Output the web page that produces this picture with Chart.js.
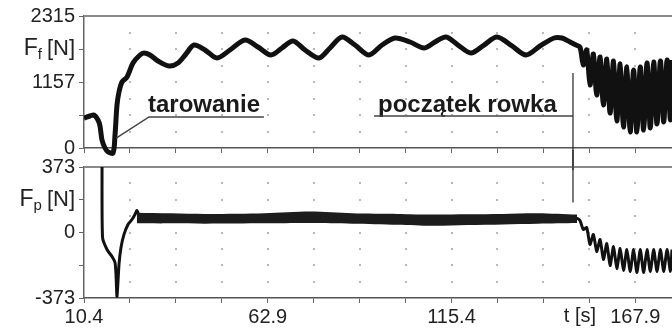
<!DOCTYPE html>
<html><head><meta charset="utf-8">
<script src="https://cdn.jsdelivr.net/npm/chart.js@4.4.0/dist/chart.umd.min.js"></script>
<style>
html,body{margin:0;padding:0;background:#fff;}
#wrap{position:relative;width:672px;height:331px;overflow:hidden;background:#fff;}
#c1{position:absolute;left:0;top:0;}
#c2{position:absolute;left:0;top:150px;}
</style></head><body>
<div id="wrap"><canvas id="c1" width="672" height="170"></canvas><canvas id="c2" width="672" height="181"></canvas></div>
<script>
// ---- data ----
const ffTime = [10.4,12.11,13.26,14.4,14.97,15.54,16.4,17.26,18.69,19.26,19.83,20.4,21.26,22.69,24.4,26.4,27.54,29.26,31.54,34.69,37.26,39.54,41.83,44.97,48.4,52.11,56.4,60.11,63.83,66.97,70.11,73.54,77.54,80.69,84.11,87.83,91.83,95.54,99.26,103.54,107.54,110.69,113.83,117.26,120.97,124.69,128.4,132.69,136.69,140.69,144.69,146.97,149.26,150.97,152.11,153.06,154.03,154.97,155.94,156.89,157.86,158.8,159.77,160.71,161.69,162.63,163.6,164.54,165.51,166.46,167.43,168.37,169.34,170.29,171.26,172.2,173.17,174.11,175.09,176.03,177.0,177.94,178.4];
const ffValue = [526,561,579,491,386,140,0,-70,-88,228,754,982,1158,1245,1491,1631,1666,1631,1526,1438,1491,1649,1806,1719,1578,1719,1894,1771,1631,1754,1877,1719,1578,1754,1947,1806,1631,1806,1929,1859,1754,1859,1947,1806,1666,1806,1947,1789,1631,1789,1929,1929,1859,1806,1771,1456,1719,1105,1649,930,1596,754,1561,614,1526,474,1473,368,1421,281,1368,281,1421,316,1491,351,1508,421,1526,456,1543,491,1543];

const fpTime = [15.55,15.7,16.97,18.4,19.26,19.54,19.83,20.4,20.97,21.83,22.97,24.11,24.97,25.54,26.4,27.83,45,62,75,87,100,110,120,130,140,151.26,152.11,153.06,154.03,154.97,155.94,156.89,157.86,158.8,159.77,160.71,161.69,162.63,163.6,164.54,165.51,166.46,167.43,168.37,169.34,170.29,171.26,172.2,173.17,174.11,175.09,176.03,177.0,177.94,178.4];
const fpValue = [400,-28,-97,-137,-171,-239,-364,-182,-85,-11,46,74,103,125,85,80,79,80,84,80,76,72,74,76,79,80,68,17,28,-68,-11,-108,-40,-154,-63,-188,-80,-205,-91,-216,-97,-222,-97,-228,-97,-228,-97,-222,-97,-222,-97,-222,-97,-222,-97];

const fpBandTime  = [25.5,45,62,75,87,100,110,120,130,140,151.3];
const fpBandUpper = [112,106,110,120,110,106,102,104,106,110,102];
const fpBandLower = [52,50,52,54,50,44,38,42,46,50,54];

const xTickValues = [10.4,23.525,36.65,49.775,62.9,76.025,89.15,102.275,115.4,128.525,141.65,154.775,167.9];
const xTickLabels = ['10.4','','','','62.9','','','','115.4','','','','167.9'];
const ffTickValues = [0,578.75,1157.5,1736.25,2315];
const ffTickLabels = ['0','','1157','','2315'];
const fpTickValues = [-373,-186.5,0,186.5,373];
const fpTickLabels = ['-373','','0','','373'];

const X_MIN = 10.4, X_MAX = 178.4;
const FONT = "'Liberation Sans', Arial, sans-serif";

function pts(t, v){ const n=Math.min(t.length,v.length); const a=[]; for(let i=0;i<n;i++) a.push({x:t[i],y:v[i]}); return a; }
function gridLevels(ticks){ const out=[]; for(let i=0;i<ticks.length-1;i++){ out.push(ticks[i]); out.push((ticks[i]+ticks[i+1])/2);} out.push(ticks[ticks.length-1]); return out; }

function dotGrid(chart, levels){
  const {ctx, chartArea:a, scales:{x,y}} = chart;
  ctx.save(); ctx.fillStyle = '#b8b8b8';
  for (const tv of xTickValues.slice(1)){
    const px = Math.round(x.getPixelForValue(tv));
    for (const lv of levels){
      const py = Math.round(y.getPixelForValue(lv));
      if (py <= a.top+1 || py >= a.bottom-1) continue;
      ctx.fillRect(px-1, py-1, 2, 2);
    }
  }
  ctx.restore();
}
function topBorder(chart){
  const {ctx, chartArea:a} = chart;
  ctx.save(); ctx.strokeStyle='#8a8a8a'; ctx.lineWidth=2;
  ctx.beginPath(); ctx.moveTo(a.left, a.top); ctx.lineTo(a.right, a.top); ctx.stroke(); ctx.restore();
}
function yTitle(chart, value, sub){
  const {ctx, scales:{y}} = chart;
  const py = y.getPixelForValue(value);
  ctx.save(); ctx.fillStyle='#222'; ctx.textBaseline='middle'; ctx.textAlign='right';
  ctx.font = '22px ' + FONT;
  const right = 75;
  ctx.fillText('[N]', right, py);
  const wN = ctx.measureText('[N]').width;
  ctx.font = '15px ' + FONT;
  const subX = right - wN - 5;
  ctx.fillText(sub, subX, py + 6);
  const wS = ctx.measureText(sub).width;
  ctx.font = '23px ' + FONT;
  ctx.fillText('F', subX - wS, py);
  ctx.restore();
}

const topPlugin = {
  id: 'topDecor',
  beforeDatasetsDraw(chart){ dotGrid(chart, gridLevels(ffTickValues)); topBorder(chart); },
  afterDraw(chart){
    const {ctx, scales:{x,y}} = chart;
    yTitle(chart, ffTickValues[3], 'f');
    ctx.save();
    ctx.fillStyle='#1a1a1a'; ctx.font='bold 24px ' + FONT; ctx.textBaseline='alphabetic'; ctx.textAlign='left';
    ctx.fillText('tarowanie', x.getPixelForValue(28.69), y.getPixelForValue(631));
    ctx.fillText('początek rowka', x.getPixelForValue(94.4), y.getPixelForValue(631));
    ctx.strokeStyle='#444'; ctx.lineWidth=1.5;
    ctx.beginPath();
    ctx.moveTo(x.getPixelForValue(61.8), y.getPixelForValue(544));
    ctx.lineTo(x.getPixelForValue(28.97), y.getPixelForValue(544));
    ctx.lineTo(x.getPixelForValue(19.6), y.getPixelForValue(175));
    ctx.stroke();
    ctx.beginPath();
    ctx.moveTo(x.getPixelForValue(93.26), y.getPixelForValue(561));
    ctx.lineTo(x.getPixelForValue(150.11), y.getPixelForValue(561));
    ctx.stroke();
    ctx.strokeStyle='#222'; ctx.lineWidth=1.2;
    ctx.beginPath();
    ctx.moveTo(x.getPixelForValue(150.11), y.getPixelForValue(1315));
    ctx.lineTo(x.getPixelForValue(150.11), chart.height);
    ctx.stroke();
    ctx.restore();
  }
};
const botPlugin = {
  id: 'botDecor',
  beforeDatasetsDraw(chart){ dotGrid(chart, gridLevels(fpTickValues)); topBorder(chart); },
  afterDraw(chart){
    const {ctx, scales:{x,y}} = chart;
    yTitle(chart, fpTickValues[3], 'p');
    ctx.save();
    ctx.strokeStyle='#222'; ctx.lineWidth=1.2;
    ctx.beginPath();
    ctx.moveTo(x.getPixelForValue(150.11), 0);
    ctx.lineTo(x.getPixelForValue(150.11), y.getPixelForValue(171));
    ctx.stroke();
    ctx.fillStyle='#222'; ctx.font='20px ' + FONT; ctx.textAlign='center'; ctx.textBaseline='middle';
    ctx.fillText('t [s]', x.getPixelForValue(152.1), chart.chartArea.bottom + 18);
    ctx.restore();
  }
};

function xScale(height, showLabels){
  return {
    type:'linear', min:X_MIN, max:X_MAX,
    afterBuildTicks: s => { s.ticks = xTickValues.map(v => ({value:v})); },
    afterFit: s => { s.height = height; },
    ticks:{ display:showLabels, autoSkip:false, maxRotation:0, minRotation:0, padding:2,
      callback:(v,i)=>xTickLabels[i], color:'#222', font:{family:FONT, size:20} },
    grid:{ drawOnChartArea:false, drawTicks:true, tickLength:5, color:'#666', lineWidth:1 },
    border:{ display:true, color:'#555', width:1.5 }
  };
}
function yScale(vals, labels){
  return {
    type:'linear', min:vals[0], max:vals[vals.length-1],
    afterBuildTicks: s => { s.ticks = vals.map(v => ({value:v})); },
    afterFit: s => { s.width = 84; },
    ticks:{ autoSkip:false, padding:4, callback:(v,i)=>labels[i], color:'#222', font:{family:FONT, size:20} },
    grid:{ drawOnChartArea:false, drawTicks:true, tickLength:5, color:'#666', lineWidth:1 },
    border:{ display:true, color:'#666', width:1.5 }
  };
}
const common = { responsive:false, animation:false, devicePixelRatio:1,
  plugins:{ legend:{display:false}, tooltip:{enabled:false} }, elements:{ point:{radius:0} } };

new Chart(document.getElementById('c1'), {
  type:'line',
  data:{ datasets:[{ label:'Ff', data:pts(ffTime, ffValue), borderColor:'#111', borderWidth:5,
    tension:0.3, borderJoinStyle:'round', clip:{left:0, top:4, right:0, bottom:8} }] },
  options:Object.assign({}, common, {
    layout:{ padding:{ left:0, right:0, top:16, bottom:0 } },
    scales:{ x:xScale(22, false), y:yScale(ffTickValues, ffTickLabels) }
  }),
  plugins:[topPlugin]
});

new Chart(document.getElementById('c2'), {
  type:'line',
  data:{ datasets:[
    { label:'Fp band upper', data:pts(fpBandTime, fpBandUpper), borderWidth:0, fill:'+1', backgroundColor:'#1c1c1c', tension:0.3 },
    { label:'Fp band lower', data:pts(fpBandTime, fpBandLower), borderWidth:0, fill:false, tension:0.3 },
    { label:'Fp', data:pts(fpTime, fpValue), borderColor:'#111', borderWidth:3, tension:0.2, borderJoinStyle:'round', clip:0 }
  ] },
  options:Object.assign({}, common, {
    layout:{ padding:{ left:0, right:0, top:17, bottom:0 } },
    scales:{ x:xScale(33, true), y:yScale(fpTickValues, fpTickLabels) }
  }),
  plugins:[botPlugin]
});
</script>
</body></html>
